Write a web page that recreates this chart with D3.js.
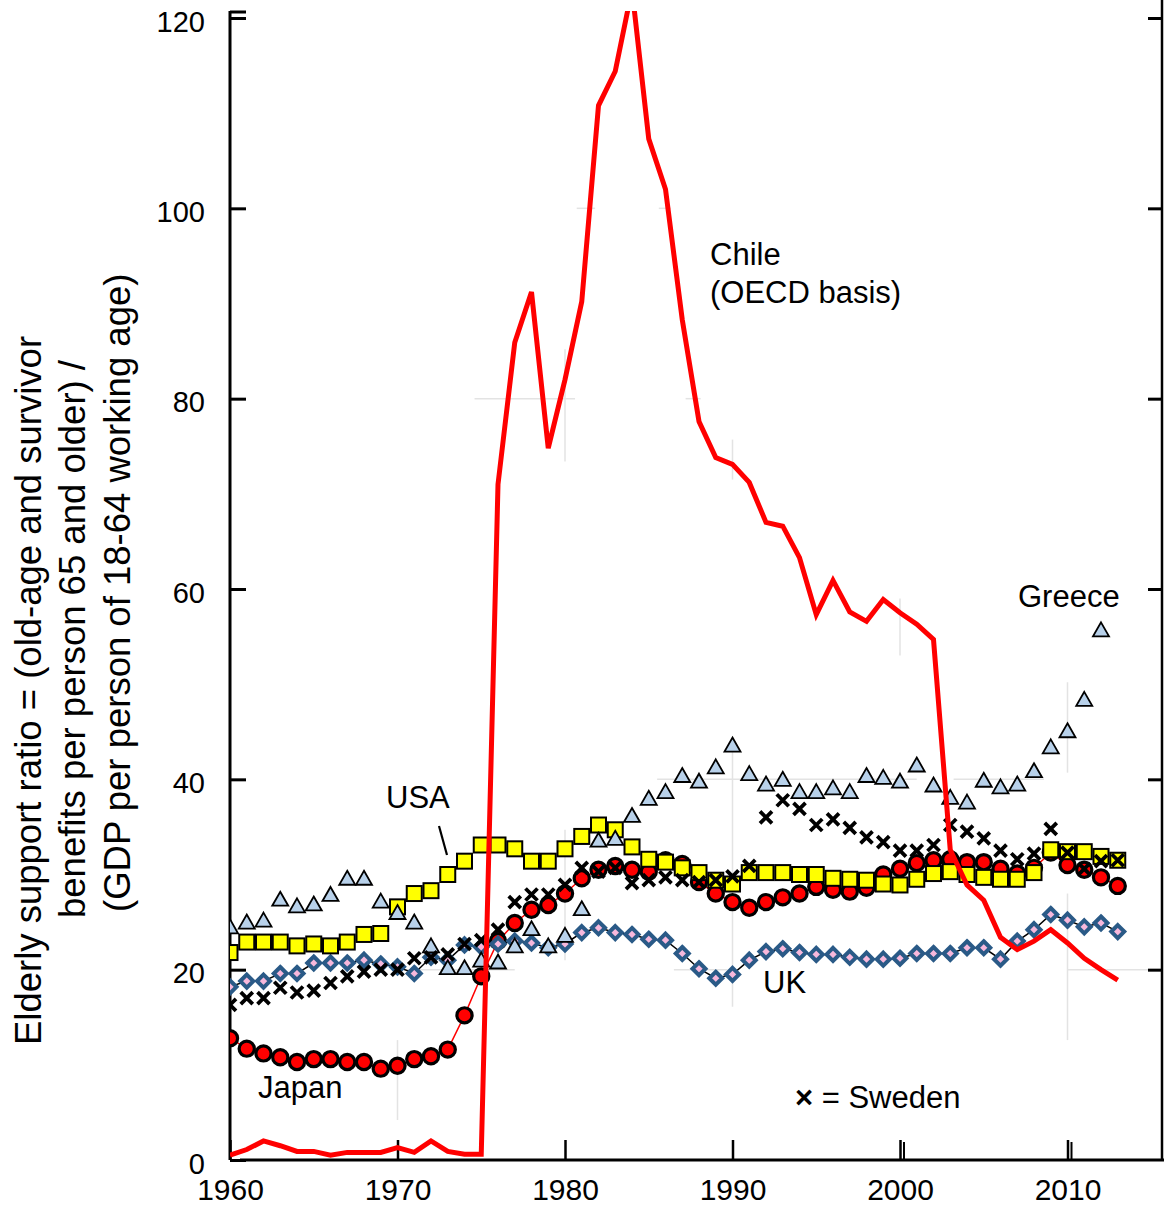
<!DOCTYPE html>
<html><head><meta charset="utf-8">
<script src="https://cdn.jsdelivr.net/npm/d3@7"></script>
<style>
body{margin:0;background:#fff}
svg{display:block}
text{font-family:"Liberation Sans",Arial,Helvetica,sans-serif;fill:#000}
</style>
</head><body>
<svg id="c" width="1165" height="1208"></svg>
<script>
// ---------- data ----------
const years = d3.range(1960, 2014);
const chile = [0.5,1.1,2.0,1.5,0.9,0.9,0.5,0.8,0.8,0.8,
  1.3,0.8,2.0,0.9,0.6,0.6,71.0,85.9,91.2,74.8,
  82.0,90.2,110.8,114.4,123.0,107.3,102.0,88.3,77.6,73.8,
  73.1,71.2,67.0,66.6,63.3,57.3,60.9,57.6,56.6,58.9,
  57.5,56.3,54.7,32.6,28.9,27.3,23.4,22.1,23.0,24.2,
  22.8,21.2,20.0,18.9];
const japan = [12.8,11.7,11.2,10.8,10.3,10.6,10.6,10.3,10.3,9.6,
  9.9,10.6,10.9,11.6,15.2,19.3,23.0,24.9,26.3,26.8,
  28.0,29.6,30.5,30.9,30.5,30.3,31.5,31.1,29.2,28.0,
  27.1,26.5,27.1,27.6,28.0,28.7,28.4,28.2,28.6,30.0,
  30.6,31.2,31.5,31.6,31.3,31.3,30.6,30.1,30.7,32.3,
  31.0,30.5,29.7,28.8];
const usa = [21.8,22.9,22.9,22.9,22.5,22.7,22.5,22.9,23.7,23.8,
  26.6,28.0,28.3,30.0,31.4,33.1,33.1,32.7,31.4,31.4,
  32.7,34.0,35.2,34.7,32.9,31.6,31.3,30.7,30.2,29.4,
  29.0,30.2,30.2,30.2,30.0,30.0,29.6,29.5,29.4,29.0,
  28.9,29.5,30.1,30.3,30.0,29.7,29.5,29.5,30.2,32.6,
  32.4,32.4,31.9,31.5];
const greece = [24.4,24.9,25.1,27.3,26.6,26.8,27.8,29.5,29.5,27.1,
  25.9,24.9,22.4,20.1,20.1,20.9,20.7,22.4,24.2,22.4,
  23.5,26.3,33.5,33.7,36.1,37.9,38.6,40.3,39.7,41.2,
  43.5,40.5,39.4,39.9,38.6,38.6,39.0,38.6,40.3,40.1,
  39.7,41.4,39.3,38.0,37.5,39.8,39.1,39.4,40.8,43.3,
  45.0,48.3,55.6,null];
const uk = [18.2,18.8,18.8,19.6,19.6,20.7,20.7,20.7,21.0,20.6,
  20.3,19.6,21.3,21.0,22.6,22.4,22.7,23.0,22.8,22.3,
  22.7,23.9,24.4,23.9,23.7,23.2,23.1,21.7,20.1,19.1,
  19.5,21.0,21.9,22.2,21.8,21.6,21.6,21.3,21.1,21.1,
  21.2,21.7,21.7,21.7,22.3,22.3,21.1,23.0,24.2,25.8,
  25.2,24.5,24.9,24.0];
const sweden = [16.3,17.0,17.0,18.1,17.6,17.8,18.6,19.3,19.8,20.0,
  20.0,21.2,21.3,21.6,22.7,23.1,24.2,27.1,27.9,27.9,
  28.9,30.7,30.3,30.7,29.1,29.4,29.7,29.4,29.2,29.4,
  29.8,30.9,36.0,37.8,36.9,35.2,35.8,34.9,33.9,33.4,
  32.5,32.5,33.1,35.2,34.5,33.8,32.5,31.6,32.2,34.8,
  32.3,30.6,31.4,31.5];
const xTicks = [1960,1970,1980,1990,2000,2010];
const yTicks = [0,20,40,60,80,100,120];
const yTitle = ["Elderly support ratio = (old-age and survivor",
                "benefits per person 65 and older) /",
                "(GDP per person of 18-64 working age)"];
const chileLabel = ["Chile","(OECD basis)"];
// faint partial grid pieces (value, year range) / (year, value range)
const hGrid = [[80,1974.6,1980.6],[80,1987.2,1988.1],[100,1980.7,1981.8],[100,1985.6,1986.3],
  [40,1985.5,2001.0],[40,2003.2,2008.6],[20,1970.5,1977.0],[20,1986.5,1989.7],[20,2010.0,2015.0]];
const vGrid = [[1970,4.2,12.6],[1980,21.0,34.7],[1980,73.4,85.2],[1990,16.1,44.2],[1990,71.5,75.7],
  [2000,53.0,59.0],[2010,40.7,50.2],[2010,12.6,28.0]];

// ---------- scales ----------
const svg = d3.select("#c");
const x = d3.scaleLinear().domain([1960, 2010]).range([230, 1067.5]);
const y = d3.scaleLinear().domain([0, 120]).range([1160, 18]);
const xL = 230, xR = 1162, yB = 1160, yT = 11;

// clip
svg.append("defs").append("clipPath").attr("id","plot")
  .append("rect").attr("x",xL).attr("y",yT).attr("width",xR-xL).attr("height",yB-yT+4);

// faint grid
const g0 = svg.append("g").attr("stroke","#e3e3e3").attr("stroke-width",1.5);
hGrid.forEach(d=>g0.append("line").attr("x1",x(d[1])).attr("x2",x(d[2])).attr("y1",y(d[0])).attr("y2",y(d[0])));
vGrid.forEach(d=>g0.append("line").attr("x1",x(d[0])).attr("x2",x(d[0])).attr("y1",y(d[1])).attr("y2",y(d[2])));

// ---------- axes ----------
const ax = svg.append("g").attr("stroke","#000");
ax.append("line").attr("x1",xL).attr("x2",xL).attr("y1",yT).attr("y2",yB).attr("stroke-width",3);
ax.append("line").attr("x1",xL+10).attr("x2",xR+2).attr("y1",yB).attr("y2",yB).attr("stroke-width",3);
ax.append("line").attr("x1",xR).attr("x2",xR).attr("y1",0).attr("y2",yB).attr("stroke-width",2.5);
ax.append("line").attr("x1",xL).attr("x2",xL+16).attr("y1",yT+1).attr("y2",yT+1).attr("stroke-width",3);

const yAxis = svg.append("g").attr("transform",`translate(${xL},0)`)
  .call(d3.axisLeft(y).tickValues(yTicks).tickSizeInner(-16).tickSizeOuter(0).tickPadding(25));
yAxis.select(".domain").remove();
yAxis.selectAll(".tick line").attr("stroke-width",3);
yAxis.selectAll(".tick text").style("font-size","29px").attr("font-family",null).attr("dy","0.45em");

svg.append("g").attr("transform",`translate(${xR},0)`)
  .call(d3.axisRight(y).tickValues(yTicks.slice(1)).tickSizeInner(-14).tickSizeOuter(0).tickFormat(""))
  .call(g=>{g.select(".domain").remove(); g.selectAll(".tick line").attr("stroke-width",3);});

const xAxis = svg.append("g").attr("transform",`translate(0,${yB})`)
  .call(d3.axisBottom(x).tickValues(xTicks).tickFormat(d3.format("d")).tickSizeInner(-20).tickSizeOuter(0).tickPadding(19));
xAxis.select(".domain").remove();
xAxis.selectAll(".tick line").attr("stroke-width",2.5);
xAxis.selectAll(".tick text").style("font-size","30px").attr("font-family",null);
[2000,2010].forEach(v=>svg.append("line").attr("x1",x(v)+4).attr("x2",x(v)+4)
  .attr("y1",yB-18).attr("y2",yB).attr("stroke","#000").attr("stroke-width",2));

// ---------- series ----------
const pts = arr => years.map((yr,i)=>({yr, v:arr[i]})).filter(d=>d.v!=null);
const line = d3.line().x(d=>x(d.yr)).y(d=>y(d.v));
const plot = svg.append("g").attr("clip-path","url(#plot)");

// Japan
plot.append("path").datum(pts(japan)).attr("d",line).attr("fill","none").attr("stroke","#ff0000").attr("stroke-width",1.5);
plot.append("g").selectAll("circle").data(pts(japan)).join("circle")
  .attr("cx",d=>x(d.yr)).attr("cy",d=>y(d.v)).attr("r",7.6)
  .attr("fill","#ff0000").attr("stroke","#000").attr("stroke-width",3.2);

// UK
plot.append("path").datum(pts(uk)).attr("d",line).attr("fill","none").attr("stroke","#000").attr("stroke-width",1.5);
plot.append("g").selectAll("path").data(pts(uk)).join("path")
  .attr("d","M0,-6.5L6.5,0L0,6.5L-6.5,0Z")
  .attr("transform",d=>`translate(${x(d.yr)},${y(d.v)})`)
  .attr("fill","#f7b8dc").attr("stroke","#2a5a87").attr("stroke-width",4).attr("stroke-linejoin","miter");

// USA
plot.append("g").selectAll("rect").data(pts(usa)).join("rect")
  .attr("x",d=>x(d.yr)-7.5).attr("y",d=>y(d.v)-7.5).attr("width",15).attr("height",15)
  .attr("fill","#ffff00").attr("stroke","#000").attr("stroke-width",2);

// Greece
plot.append("g").selectAll("path").data(pts(greece)).join("path")
  .attr("d","M0,-8.5L8,5.5L-8,5.5Z")
  .attr("transform",d=>`translate(${x(d.yr)},${y(d.v)})`)
  .attr("fill","#b8d1ea").attr("stroke","#000").attr("stroke-width",1.8).attr("stroke-linejoin","miter");

// Sweden
plot.append("g").selectAll("path").data(pts(sweden)).join("path")
  .attr("d","M-6,-6L6,6M-6,6L6,-6")
  .attr("transform",d=>`translate(${x(d.yr)},${y(d.v)})`)
  .attr("fill","none").attr("stroke","#000").attr("stroke-width",3.8);

// Chile
plot.append("path").datum(pts(chile)).attr("d",line).attr("fill","none")
  .attr("stroke","#ff0000").attr("stroke-width",5).attr("stroke-linejoin","miter");

// ---------- labels ----------
const t = svg.append("g").style("font-size","31px");
t.append("text").attr("x",710).attr("y",265).text(chileLabel[0]);
t.append("text").attr("x",710).attr("y",303).text(chileLabel[1]);
t.append("text").attr("x",1018).attr("y",607).text("Greece");
t.append("text").attr("x",386).attr("y",808).text("USA");
svg.append("line").attr("x1",439).attr("y1",826).attr("x2",447).attr("y2",855).attr("stroke","#000").attr("stroke-width",2.2);
t.append("text").attr("x",763).attr("y",993).text("UK");
t.append("text").attr("x",258).attr("y",1098).text("Japan");
const sw = t.append("text").attr("x",795).attr("y",1108);
sw.append("tspan").attr("font-weight","bold").text("×");
sw.append("tspan").text(" = Sweden");

// y title
const yt = svg.append("g").style("font-size","36.5px");
[[41,1045],[85,918],[130,912]].forEach((p,i)=>{
  yt.append("text").attr("transform",`translate(${p[0]},${p[1]}) rotate(-90)`).text(yTitle[i]);
});
</script>
</body></html>
